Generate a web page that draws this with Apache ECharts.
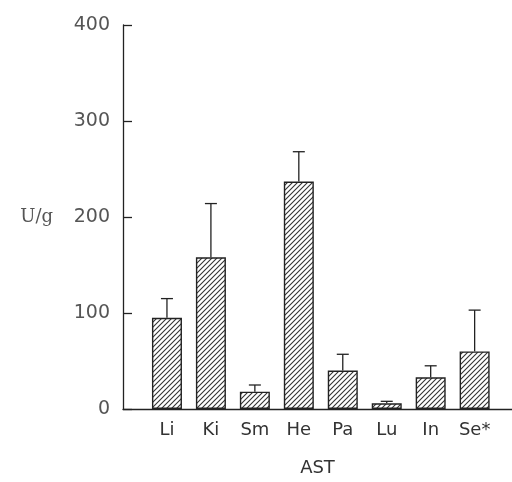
<!DOCTYPE html>
<html>
<head>
<meta charset="utf-8">
<script src="https://cdn.jsdelivr.net/npm/echarts@6/dist/echarts.min.js"></script>
<style>
  html, body { margin: 0; padding: 0; background: #fff; }
  #chart { width: 512px; height: 482px; }
</style>
</head>
<body>
<div id="chart"></div>
<script>
// AST activity per tissue, U/g
var categories = ["Li", "Ki", "Sm", "He", "Pa", "Lu", "In", "Se*"];
var means = [95, 158, 18, 237, 40, 6, 33, 60];
var upper = [115, 214, 25, 268, 57, 8, 45, 103];
var yTicks = [0, 100, 200, 300, 400];

// hatch fill for the bars
function hatch() {
  var c = document.createElement("canvas");
  c.width = 5;
  c.height = 5;
  var ctx = c.getContext("2d");
  ctx.fillStyle = "#fff";
  ctx.fillRect(0, 0, 5, 5);
  ctx.strokeStyle = "#333";
  ctx.lineWidth = 1.1;
  ctx.beginPath();
  ctx.moveTo(-1, 6); ctx.lineTo(6, -1);
  ctx.moveTo(-1, 1); ctx.lineTo(1, -1);
  ctx.moveTo(4, 6); ctx.lineTo(6, 4);
  ctx.stroke();
  return c;
}

var barData = categories.map(function (c, i) { return [i + 1, means[i]]; });
var errData = categories.map(function (c, i) { return [i + 1, means[i], upper[i]]; });

var myChart = echarts.init(document.getElementById("chart"));
myChart.setOption({
  animation: false,
  grid: { left: 123, right: 0, top: 25, bottom: 71 },
  xAxis: {
    type: "value",
    min: 0,
    max: 8.85,
    interval: 1,
    name: "AST",
    nameLocation: "middle",
    nameGap: 50,
    nameTextStyle: { color: "#333", fontSize: 18, fontFamily: "DejaVu Sans" },
    splitLine: { show: false },
    axisTick: { show: false },
    axisLine: { show: true, lineStyle: { color: "#222", width: 1.3 } },
    axisLabel: {
      margin: 12,
      color: "#333",
      fontSize: 18,
      fontFamily: "DejaVu Sans",
      showMaxLabel: false,
      formatter: function (v) {
        return (v >= 1 && v <= categories.length) ? categories[v - 1] : "";
      }
    }
  },
  yAxis: {
    type: "value",
    min: yTicks[0],
    max: yTicks[yTicks.length - 1],
    interval: 100,
    name: "U/g",
    nameLocation: "middle",
    nameRotate: 0,
    nameGap: 70,
    nameTextStyle: { color: "#555", fontSize: 18, fontFamily: "DejaVu Serif", padding: [0, 0, 22, 0] },
    splitLine: { show: false },
    axisLine: { show: true, lineStyle: { color: "#222", width: 1.3 } },
    axisTick: { show: true, inside: true, length: 9, lineStyle: { color: "#222", width: 1.3 } },
    axisLabel: { margin: 13, color: "#555", fontSize: 19, fontFamily: "DejaVu Sans" }
  },
  series: [
    {
      type: "bar",
      data: barData,
      barWidth: 30,
      itemStyle: {
        color: { image: hatch(), repeat: "repeat" },
        borderColor: "#222",
        borderWidth: 1.4
      }
    },
    {
      type: "custom",
      data: errData,
      z: 1,
      renderItem: function (params, api) {
        var top = api.coord([api.value(0), api.value(2)]);
        var base = api.coord([api.value(0), api.value(1)]);
        var style = { stroke: "#222", lineWidth: 1.3 };
        return {
          type: "group",
          children: [
            { type: "line", shape: { x1: top[0], y1: top[1], x2: base[0], y2: base[1] }, style: style },
            { type: "line", shape: { x1: top[0] - 6, y1: top[1], x2: top[0] + 6, y2: top[1] }, style: style }
          ]
        };
      }
    }
  ]
});
</script>
</body>
</html>
